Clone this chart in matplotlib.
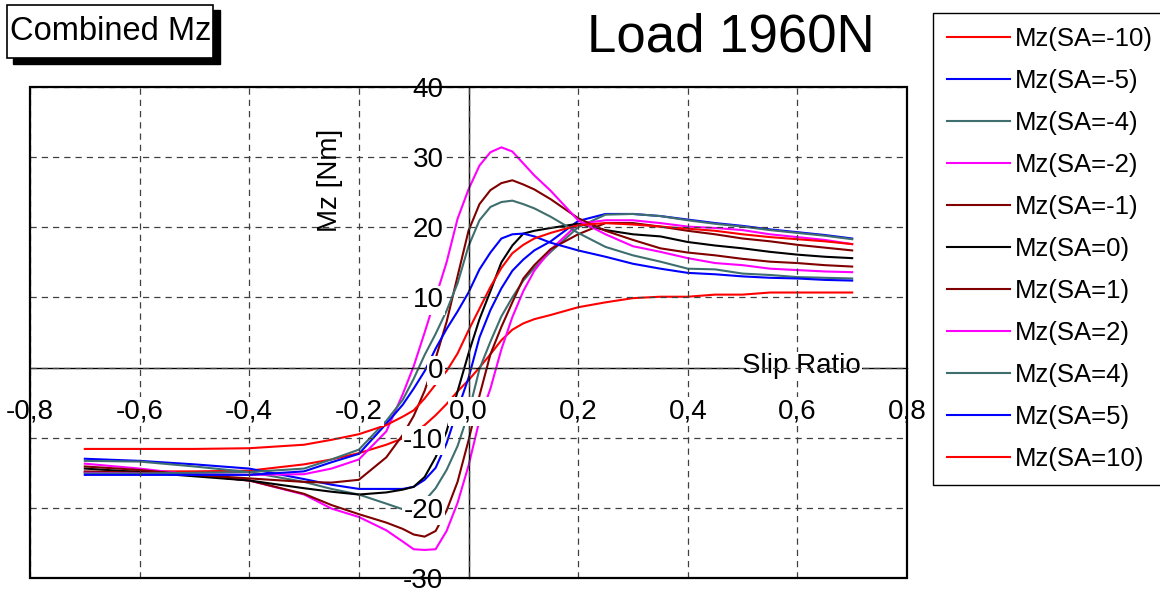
import matplotlib
matplotlib.use("Agg")
import matplotlib.pyplot as plt
from matplotlib.patches import Rectangle
from matplotlib.ticker import FuncFormatter

plt.rcParams["font.family"] = ["Liberation Sans", "DejaVu Sans"]

# slip ratio samples shared by all curves
slip = [-0.7, -0.6, -0.5, -0.4, -0.3, -0.25, -0.2, -0.15, -0.12, -0.1, -0.08,
        -0.06, -0.04, -0.02, 0.0, 0.02, 0.04, 0.06, 0.08, 0.1, 0.12, 0.15,
        0.2, 0.25, 0.3, 0.35, 0.4, 0.45, 0.5, 0.55, 0.6, 0.65, 0.7]

# aligning moment Mz [Nm] per slip angle
mz_sa_m10 = [-14.9, -14.8, -14.8, -14.7, -13.8, -13.1, -12.2, -11.0, -10.1, -9.3, -8.2,
             -6.8, -5.2, -3.4, -1.8, 0.0, 1.9, 3.9, 5.4, 6.3, 6.9, 7.5,
             8.6, 9.3, 9.9, 10.1, 10.1, 10.4, 10.4, 10.7, 10.7, 10.7, 10.7]
mz_sa_m5 = [-13.0, -13.3, -13.8, -14.4, -15.9, -16.7, -17.3, -17.3, -17.3, -17.0, -16.0,
            -14.3, -10.8, -6.0, -1.5, 4.3, 8.2, 11.3, 13.8, 15.4, 16.7, 18.0,
            20.9, 21.9, 21.9, 21.6, 21.1, 20.6, 20.2, 19.7, 19.3, 18.9, 18.4]
mz_sa_m4 = [-13.3, -13.4, -14.1, -14.9, -16.3, -17.3, -18.1, -19.4, -20.2, -20.0, -19.0,
            -17.2, -14.6, -11.2, -6.5, -0.2, 3.7, 7.3, 10.0, 12.4, 14.2, 16.5,
            20.0, 21.8, 21.9, 21.6, 21.0, 20.5, 20.1, 19.6, 19.2, 18.8, 18.3]
mz_sa_m2 = [-13.7, -14.4, -15.3, -16.1, -18.1, -20.1, -21.3, -23.2, -24.8, -25.9, -26.0,
            -25.9, -23.3, -19.3, -14.0, -7.5, -3.0, 2.6, 7.2, 10.9, 13.8, 16.8,
            20.5, 21.0, 21.0, 20.6, 20.1, 19.9, 19.6, 19.0, 18.6, 18.2, 17.6]
mz_sa_m1 = [-14.1, -14.6, -15.3, -16.1, -18.0, -19.6, -20.9, -22.1, -23.0, -23.8, -24.1,
            -23.3, -20.4, -16.3, -10.4, -4.0, 1.9, 5.8, 9.3, 12.7, 14.6, 16.9,
            19.0, 20.6, 20.6, 20.1, 19.5, 19.0, 18.4, 18.0, 17.5, 17.1, 16.7]
mz_sa_0 = [-14.4, -14.9, -15.5, -16.1, -17.2, -17.7, -18.1, -17.8, -17.4, -17.0, -15.6,
           -12.8, -9.1, -3.4, 2.0, 6.9, 10.9, 15.0, 17.4, 19.1, 19.5, 19.9,
           20.5, 19.6, 19.0, 18.7, 17.9, 17.4, 17.0, 16.5, 16.1, 15.8, 15.6]
mz_sa_1 = [-14.8, -15.0, -15.3, -15.8, -16.3, -16.4, -16.0, -12.8, -9.6, -6.9, -3.3,
           1.3, 6.5, 13.0, 19.5, 23.3, 25.3, 26.3, 26.7, 26.1, 25.4, 24.0,
           21.3, 19.5, 18.2, 17.0, 16.4, 16.0, 15.5, 15.1, 14.9, 14.6, 14.4]
mz_sa_2 = [-15.0, -15.1, -15.2, -15.3, -15.2, -14.4, -13.1, -9.1, -3.8, 0.2, 5.0,
           10.0, 15.0, 21.2, 25.4, 28.8, 30.7, 31.4, 30.8, 29.1, 27.4, 25.2,
           21.0, 19.0, 17.3, 16.5, 15.6, 14.9, 14.6, 14.1, 13.9, 13.7, 13.6]
mz_sa_4 = [-15.1, -15.1, -15.0, -14.9, -14.4, -13.1, -11.7, -7.6, -4.6, -1.6, 1.8,
           4.8, 8.1, 12.0, 17.3, 21.0, 22.9, 23.6, 23.8, 23.3, 22.7, 21.5,
           19.2, 17.2, 16.0, 15.1, 14.1, 14.0, 13.4, 13.2, 12.9, 12.8, 12.7]
mz_sa_5 = [-15.3, -15.3, -15.3, -15.3, -14.8, -13.5, -12.3, -8.0, -5.3, -3.0, -0.5,
           2.7, 5.5, 8.0, 10.7, 14.0, 16.4, 18.4, 19.0, 19.1, 18.7, 17.8,
           16.7, 15.8, 14.8, 14.1, 13.5, 13.3, 13.0, 12.8, 12.7, 12.5, 12.4]
mz_sa_10 = [-11.6, -11.6, -11.6, -11.5, -11.0, -10.3, -9.5, -8.2, -7.0, -6.1, -4.4,
            -2.4, -0.5, 2.0, 5.3, 8.4, 11.5, 14.2, 16.3, 17.5, 18.4, 19.2,
            20.3, 20.6, 20.4, 20.1, 19.8, 19.5, 19.0, 18.6, 18.3, 18.0, 17.6]

labels = ["Mz(SA=-10)", "Mz(SA=-5)", "Mz(SA=-4)", "Mz(SA=-2)", "Mz(SA=-1)",
          "Mz(SA=0)", "Mz(SA=1)", "Mz(SA=2)", "Mz(SA=4)", "Mz(SA=5)", "Mz(SA=10)"]
curves = [mz_sa_m10, mz_sa_m5, mz_sa_m4, mz_sa_m2, mz_sa_m1, mz_sa_0,
          mz_sa_1, mz_sa_2, mz_sa_4, mz_sa_5, mz_sa_10]
colors = ["#ff0000", "#0000ff", "#3f6e6e", "#ff00ff", "#800000", "#000000",
          "#800000", "#ff00ff", "#3f6e6e", "#0000ff", "#ff0000"]

x_ticks = [-0.8, -0.6, -0.4, -0.2, 0.0, 0.2, 0.4, 0.6, 0.8]
y_ticks = [-30, -20, -10, 0, 10, 20, 30, 40]

W, H = 1160, 591
fig = plt.figure(figsize=(W / 100, H / 100), dpi=100)
ax = fig.add_axes([30 / W, 13 / H, 877 / W, 491 / H])

handles = []
for vals, col, lab in zip(curves, colors, labels):
    (ln,) = ax.plot(slip, vals, color=col, lw=1.5, label=lab)
    handles.append(ln)

ax.set_xlim(-0.8, 0.8)
ax.set_ylim(-30, 40)
ax.set_xticks(x_ticks)
ax.set_yticks(y_ticks)
ax.xaxis.set_major_formatter(FuncFormatter(lambda v, p: f"{round(v, 1) + 0.0:.1f}".replace(".", ",")))
ax.yaxis.set_major_formatter(FuncFormatter(lambda v, p: f"{v:.0f}"))

# axes cross at the origin, outer box drawn separately
ax.spines["left"].set_position("zero")
ax.spines["bottom"].set_position("zero")
ax.spines["top"].set_visible(False)
ax.spines["right"].set_visible(False)
for s in ("left", "bottom"):
    ax.spines[s].set_linewidth(1.0)
ax.add_patch(Rectangle((0, 0), 1, 1, transform=ax.transAxes, fill=False,
                       lw=1.6, ec="black", clip_on=False, zorder=3))

ax.set_axisbelow(False)
ax.grid(True, ls=(0, (5, 4)), color="#404040", lw=0.9)
ax.tick_params(axis="both", length=0, labelsize=20)
ax.tick_params(axis="x", pad=22)
ax.tick_params(axis="y", pad=18)
for lab in ax.get_xticklabels() + ax.get_yticklabels():
    lab.set_bbox(dict(facecolor="white", edgecolor="none", pad=1))

ax.set_xlabel("Slip Ratio", fontsize=20, va="center", ha="center",
              bbox=dict(facecolor="white", edgecolor="none", pad=1))
ax.xaxis.set_label_coords((801 - 30) / 877, (578 - 366) / 491)
ax.set_ylabel("Mz [Nm]", fontsize=20, va="center", ha="center")
ax.yaxis.set_label_coords((330 - 30) / 877, (578 - 180) / 491)

# title and boxed caption
fig.text(731 / W, 1 - 38 / H, "Load 1960N", fontsize=38, ha="center", va="center")
fig.add_artist(Rectangle((13 / W, 1 - 64 / H), 207 / W, 54 / H,
                         transform=fig.transFigure, fc="black", ec="black"))
fig.add_artist(Rectangle((7 / W, 1 - 58 / H), 206 / W, 53 / H,
                         transform=fig.transFigure, fc="white", ec="black", lw=1.2))
fig.text(111 / W, 1 - 32 / H, "Combined Mz", fontsize=23.5, ha="center", va="center")

leg = fig.legend(handles, labels, loc="upper left", bbox_to_anchor=(933 / W, 1 - 13 / H),
                 fontsize=18.5, frameon=True, fancybox=False, edgecolor="black",
                 framealpha=1, handlelength=2.45, handletextpad=0.2,
                 labelspacing=0.70, borderpad=0.55, borderaxespad=0)
leg.get_frame().set_linewidth(1.0)

fig.savefig("out.png", dpi=100)
